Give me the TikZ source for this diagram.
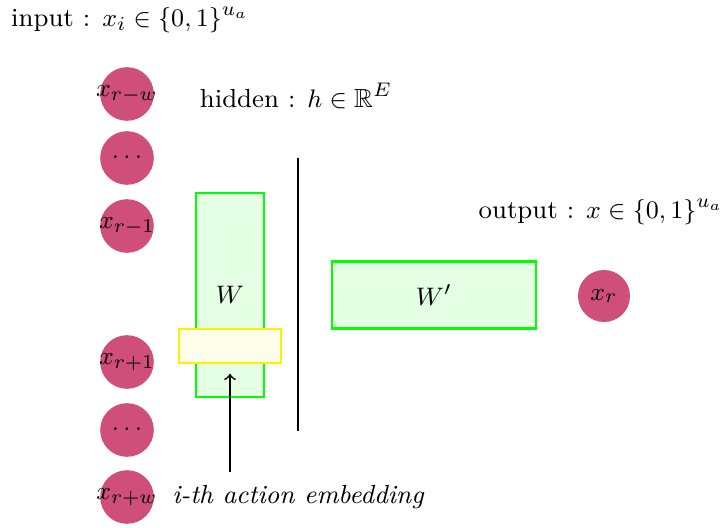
\documentclass[tikz,border=0pt]{standalone}
\usepackage{amssymb}
\usepackage{xcolor}
\usepackage{tikz}
\usetikzlibrary{calc}

\definecolor{wordpink}{RGB}{208,78,122}

\begin{document}
\begin{tikzpicture}[x=0.0125cm, y=-0.0125cm,
    every node/.style={font=\fontsize{9.3}{11}\selectfont},
    word/.style={circle, fill=wordpink, minimum size=0.67cm, inner sep=0pt},
    matrixbox/.style={draw=green, fill=green!10, thick, inner sep=0pt},
    embbox/.style={draw=yellow, fill=yellow!8, thick, inner sep=0pt}]
    \useasboundingbox (0,0) rectangle (721,527);

    \node (inlabel) at (130,20) {input : $x_i \in \{0,1\}^{u_a}$};
    \node (hidlabel) at (296,96) {hidden : $h \in \mathbb{R}^E$};
    \node (outlabel) at (601,212) {output : $x \in \{0,1\}^{u_a}$};

    \node (xrw) [word] at (127,94) {\makebox[0pt]{$x_{r-w}$}};
    \node (dotsup) [word] at (127,158) {$\cdots$};
    \node (xrm) [word] at (127,226) {\makebox[0pt]{$x_{r-1}$}};
    \node (xrp) [word] at (127,362) {\makebox[0pt]{$x_{r+1}$}};
    \node (dotsdown) [word] at (127,430) {$\cdots$};
    \node (xrpw) [word] at (127,497) {\makebox[0pt]{$x_{r+w}$}};
    \node (xr) [word, minimum size=0.65cm] at (604,296) {$x_r$};

    \node (W) [matrixbox, minimum width=0.85cm, minimum height=2.55cm] at (230,295) {$W$};
    \node (emb) [embbox, minimum width=1.27cm, minimum height=0.42cm] at (230,346) {};
    \node (Wp) [matrixbox, minimum width=2.55cm, minimum height=0.84cm] at (434,295) {$W'$};

    \coordinate (hidtop) at (298,158);
    \coordinate (hidbot) at (298,431);
    \draw[thick] (hidtop) -- (hidbot);

    \node (emblabel) at (298,497) {\itshape i-th action embedding};
    \coordinate (embtail) at (230,472);
    \draw[->, semithick, shorten >=3.5pt] (embtail) -- (emb.south);
\end{tikzpicture}
\end{document}
